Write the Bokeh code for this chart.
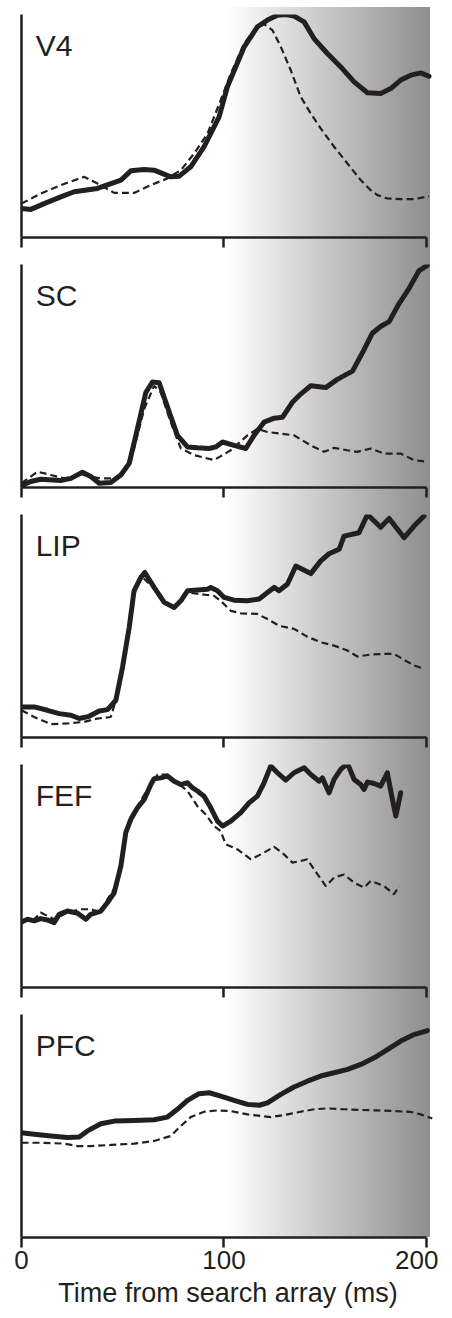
from bokeh.plotting import figure
from bokeh.layouts import column
from bokeh.models import FixedTicker, Label, Range1d, LinearAxis
from bokeh.embed import file_html
from bokeh.resources import INLINE

# ---------------- data ----------------
areas = ["V4", "SC", "LIP", "FEF", "PFC"]
x_ticks = [0, 100, 200]
x_title = "Time from search array (ms)"

# V4
v4_target_t = [0, 4.6, 11.2, 19.4, 26.0, 37.5, 49.1, 54.0, 60.6, 65.5, 73.7, 77.9, 83.6, 90.2, 97.6, 101.7,
               110.0, 116.5, 121.5, 126.4, 130.5, 134.6, 139.6, 144.5, 151.1, 157.7, 164.3, 170.9, 177.4,
               182.4, 187.3, 192.3, 197.2, 201.3]
v4_target_y = [13.0, 12.6, 15.2, 18.2, 20.5, 22.0, 25.7, 29.9, 30.5, 30.2, 27.2, 27.5, 31.7, 40.7, 54.1, 67.6,
               85.5, 94.5, 97.5, 99.7, 100.0, 99.3, 96.7, 89.2, 82.5, 76.5, 69.8, 64.9, 64.6,
               66.8, 70.6, 72.8, 73.8, 72.3]
v4_distr_t = [0, 9.5, 19.4, 30.9, 37.5, 45.8, 55.6, 63.9, 72.1, 78.7, 85.3, 91.9, 98.4, 103.4, 110.0, 114.9,
              119.8, 123.9, 128.1, 133.0, 137.9, 142.9, 147.8, 154.4, 161.0, 167.6, 172.5, 175.8, 180.7,
              187.3, 193.9, 201.3]
v4_distr_y = [15.2, 19.7, 23.5, 27.2, 24.2, 20.0, 20.0, 23.5, 26.5, 30.2, 37.7, 46.6, 61.6, 73.5, 87.0, 93.0,
              95.7, 93.0, 85.5, 75.0, 63.1, 55.6, 48.9, 40.7, 33.2, 25.7, 21.2, 19.0, 17.5,
              17.2, 17.2, 18.5]

# SC
sc_target_t = [0, 4.6, 9.5, 19.4, 24.4, 30.1, 34.2, 38.4, 44.1, 49.1, 53.2, 56.5, 61.4, 64.7, 68.0, 71.3,
               77.0, 82.0, 86.9, 92.7, 96.0, 99.3, 105.0, 110.8, 114.9, 119.8, 124.8, 128.9, 133.8, 137.9,
               142.9, 150.3, 156.0, 163.5, 168.4, 173.3, 177.4, 181.6, 186.5, 191.4, 196.4, 200.5]
sc_target_y = [0.9, 2.7, 3.7, 3.1, 4.1, 6.8, 4.9, 1.9, 2.2, 5.6, 10.8, 23.4, 42.6, 47.3, 47.0, 38.2,
               23.4, 18.2, 17.8, 17.5, 18.2, 20.4, 18.9, 17.5, 23.4, 29.3, 31.1, 31.5, 38.2, 41.9,
               45.6, 44.8, 48.5, 52.2, 60.4, 69.2, 72.2, 74.4, 82.5, 89.2, 97.3, 99.6]
sc_distr_t = [0, 7.9, 14.5, 21.1, 29.3, 34.2, 39.2, 45.8, 50.7, 55.6, 60.6, 65.5, 68.8, 73.7, 78.7, 85.3,
              95.1, 103.4, 111.6, 116.5, 121.5, 128.1, 134.6, 142.9, 149.5, 154.4, 161.0, 165.9, 172.5,
              179.1, 187.3, 193.9, 200.5]
sc_distr_y = [1.9, 7.1, 5.6, 4.1, 5.9, 4.9, 4.1, 4.1, 7.1, 17.5, 35.2, 45.6, 42.6, 29.3, 17.5, 14.5,
              12.3, 16.7, 23.4, 26.3, 24.9, 24.1, 23.4, 18.9, 16.0, 17.8, 16.7, 16.0, 17.5,
              15.2, 15.2, 12.3, 11.5]

# LIP
lip_target_t = [0, 6.3, 12.8, 18.6, 24.4, 28.5, 33.4, 38.4, 42.5, 46.6, 49.9, 53.2, 55.6, 58.9, 60.9, 65.5,
                70.5, 75.4, 78.7, 82.0, 86.9, 91.9, 93.5, 96.8, 100.1, 105.0, 111.6, 117.4, 121.5, 124.8,
                127.2, 131.4, 135.5, 142.9, 147.8, 151.9, 156.9, 159.3, 166.7, 170.9, 177.4, 181.6, 189.0,
                193.9, 198.8]
lip_target_y = [13.7, 13.7, 12.2, 10.7, 10.0, 8.5, 9.5, 11.9, 12.5, 16.7, 31.5, 49.4, 65.8, 71.7, 74.0, 67.3,
                60.6, 58.3, 61.3, 65.8, 66.1, 66.5, 67.3, 65.8, 62.8, 61.6, 61.3, 62.1, 65.0, 67.3,
                65.8, 68.8, 76.9, 73.5, 79.2, 82.4, 84.4, 90.3, 91.8, 100.0, 94.3, 98.2, 89.6,
                94.8, 99.3]
lip_distr_t = [0, 6.3, 14.5, 22.7, 30.9, 37.5, 44.1, 46.6, 49.9, 53.2, 55.6, 58.9, 65.5, 70.5, 75.4, 79.5,
               82.0, 88.6, 95.1, 98.4, 103.4, 108.3, 116.5, 121.5, 127.2, 134.6, 141.2, 147.8, 154.4,
               161.0, 165.9, 172.5, 179.1, 184.0, 189.0, 193.9, 198.8]
lip_distr_y = [12.2, 9.2, 6.0, 6.3, 7.0, 8.5, 9.2, 16.7, 31.5, 49.4, 66.5, 72.5, 67.0, 60.6, 58.6, 62.1,
               65.0, 64.3, 63.5, 61.3, 56.8, 55.7, 55.4, 53.1, 50.1, 48.7, 45.2, 42.7, 41.2,
               39.0, 36.3, 37.2, 37.5, 37.5, 34.8, 32.3, 30.8]

# FEF
fef_target_t = [0, 3.0, 6.3, 9.5, 12.8, 16.1, 18.6, 22.7, 27.7, 31.8, 34.2, 39.2, 42.5, 45.8, 49.1, 51.5,
                54.0, 57.3, 60.6, 63.9, 65.5, 68.8, 72.1, 75.4, 78.7, 82.0, 84.4, 86.9, 90.2, 93.5, 96.8,
                99.3, 103.4, 108.3, 112.4, 116.5, 119.8, 123.1, 126.4, 130.5, 134.6, 139.6, 142.9, 147.0,
                148.6, 151.9, 154.4, 157.7, 161.0, 164.3, 167.6, 169.2, 170.9, 174.2, 177.4, 180.7, 182.4,
                184.9, 187.3]
fef_target_y = [29.4, 30.6, 29.9, 30.9, 30.3, 29.1, 32.8, 34.3, 33.3, 30.6, 32.8, 34.3, 38.1, 42.5, 54.5, 69.4,
                75.4, 80.6, 84.3, 91.0, 93.6, 94.0, 94.8, 92.5, 91.0, 91.8, 89.6, 88.1, 85.8, 80.6, 74.6,
                72.4, 74.6, 78.4, 82.8, 85.8, 91.8, 99.3, 96.3, 93.0, 96.3, 98.5, 95.5, 92.5,
                94.0, 87.3, 93.3, 97.8, 100.5, 93.3, 91.0, 88.8, 92.1, 91.5, 90.3, 96.3, 88.1,
                76.9, 87.3]
fef_distr_t = [0, 6.3, 9.5, 12.8, 16.1, 22.7, 29.3, 34.2, 39.2, 42.5, 46.6, 49.9, 53.2, 57.3, 62.2, 67.2,
               72.1, 77.0, 82.0, 86.9, 91.0, 95.1, 98.4, 100.9, 106.7, 113.3, 118.2, 124.8, 129.7, 133.8,
               137.9, 141.2, 144.5, 150.3, 154.4, 159.3, 164.3, 169.2, 172.5, 179.1, 184.0, 186.5]
fef_distr_y = [29.9, 30.6, 33.6, 32.1, 30.6, 33.6, 35.1, 35.1, 33.6, 39.6, 45.5, 60.4, 75.4, 81.3, 88.8, 95.5,
               95.5, 91.8, 88.1, 81.3, 77.6, 72.4, 70.1, 64.2, 61.9, 57.5, 59.7, 63.1, 59.7, 56.0,
               56.7, 57.5, 53.0, 45.5, 49.3, 50.7, 47.0, 44.8, 47.8, 45.5, 41.8, 45.5]

# PFC
pfc_target_t = [0, 6.3, 14.5, 22.7, 28.5, 32.6, 39.2, 45.8, 55.6, 65.5, 72.1, 77.0, 82.0, 87.7, 92.7, 98.4,
                105.0, 111.6, 117.4, 121.5, 128.1, 134.6, 141.2, 147.8, 154.4, 161.0, 167.6, 174.2, 180.7,
                187.3, 193.9, 200.5]
pfc_target_y = [47.0, 46.3, 45.5, 44.8, 45.1, 47.8, 51.0, 52.2, 52.5, 52.8, 54.0, 57.5, 61.5, 64.5, 64.9, 63.4,
                61.5, 59.7, 59.3, 60.4, 64.2, 67.5, 70.1, 72.4, 73.9, 75.4, 77.6, 80.6, 84.3,
                88.1, 91.0, 92.8]
pfc_distr_t = [0, 9.5, 21.1, 27.7, 34.2, 44.1, 55.6, 65.5, 73.7, 78.7, 83.6, 90.2, 96.8, 103.4, 111.6, 118.2,
               123.1, 129.7, 137.9, 144.5, 151.1, 159.3, 167.6, 175.8, 184.0, 192.3, 197.2, 202.9]
pfc_distr_y = [42.5, 42.5, 42.1, 41.0, 41.0, 41.5, 42.1, 43.3, 45.5, 50.0, 54.0, 56.4, 57.0, 56.7, 55.2, 54.5,
               54.0, 54.9, 56.4, 57.5, 57.9, 57.5, 57.2, 57.0, 56.7, 56.3, 55.2, 53.4]

series = {
    "V4": (v4_target_t, v4_target_y, v4_distr_t, v4_distr_y),
    "SC": (sc_target_t, sc_target_y, sc_distr_t, sc_distr_y),
    "LIP": (lip_target_t, lip_target_y, lip_distr_t, lip_distr_y),
    "FEF": (fef_target_t, fef_target_y, fef_distr_t, fef_distr_y),
    "PFC": (pfc_target_t, pfc_target_y, pfc_distr_t, pfc_distr_y),
}

# ---------------- style / layout ----------------
INK = "#231f20"
FONT = "Liberation Sans"
PX_PER_MS = 2.025
X_END = 204
FRAME_W = round(X_END * PX_PER_MS)
FRAME_H = 223
LEFT = 21
SHADE_FROM, SHADE_TO = 101, 202


def make_panel(name, first, last):
    ts, ys, td, yd = series[name]
    top = 14 if first else 6
    bottom = 78 if last else 21
    p = figure(frame_width=FRAME_W, frame_height=FRAME_H,
               x_range=Range1d(0, X_END), y_range=Range1d(0, 100),
               output_backend="svg", toolbar_location=None,
               x_axis_location=None, y_axis_location=None,
               min_border_left=LEFT, min_border_right=4, min_border_top=top,
               min_border_bottom=bottom)
    p.background_fill_color = None
    p.border_fill_color = None
    p.outline_line_color = None
    p.grid.visible = False

    xa = LinearAxis(ticker=FixedTicker(ticks=x_ticks), bounds=(0, 200),
                    axis_line_color=INK, axis_line_width=2.5,
                    major_tick_line_color=INK, major_tick_line_width=2.5,
                    major_tick_in=0, major_tick_out=10,
                    minor_tick_line_color=None)
    if last:
        xa.major_label_text_font = FONT
        xa.major_label_text_font_size = "26px"
        xa.major_label_text_color = INK
        xa.major_label_standoff = 3
        xa.axis_label = x_title
        xa.axis_label_text_font = FONT
        xa.axis_label_text_font_size = "27px"
        xa.axis_label_text_font_style = "normal"
        xa.axis_label_text_color = INK
        xa.axis_label_standoff = 6
    else:
        xa.major_label_text_color = None
        xa.major_label_standoff = 0
    p.add_layout(xa, "below")

    ya = LinearAxis(ticker=FixedTicker(ticks=[]), axis_line_color=INK, axis_line_width=2.5,
                    major_tick_line_color=None, minor_tick_line_color=None,
                    major_label_text_color=None, major_label_standoff=0)
    p.add_layout(ya, "left")

    g0 = LEFT + SHADE_FROM * PX_PER_MS
    g1 = LEFT + SHADE_TO * PX_PER_MS
    grad = (f"linear-gradient(to right, rgba(255,255,255,0) {g0:.0f}px, #ffffff {g0:.0f}px, "
            f"#8e8e8e {g1:.0f}px, rgba(255,255,255,0) {g1:.0f}px)")
    st = {"background-image": grad, "background-repeat": "no-repeat"}
    if first:
        st["background-position"] = "0px 7px"
        st["background-size"] = "100% calc(100% - 7px)"
    elif last:
        st["background-size"] = f"100% {top + FRAME_H}px"
    else:
        st["background-size"] = "100% 100%"
    p.styles = st

    p.line(td, yd, line_color=INK, line_width=2.2, line_dash="7 4")
    p.line(ts, ys, line_color=INK, line_width=5, line_join="round", line_cap="round")

    p.add_layout(Label(x=7, y=86, text=name, text_font=FONT, text_font_size="30px",
                       text_color=INK, text_baseline="alphabetic"))
    return p


n = len(areas)
panels = [make_panel(a, i == 0, i == n - 1) for i, a in enumerate(areas)]
layout = column(*panels, spacing=0)

open("out.html", "w").write(file_html(layout, INLINE))
